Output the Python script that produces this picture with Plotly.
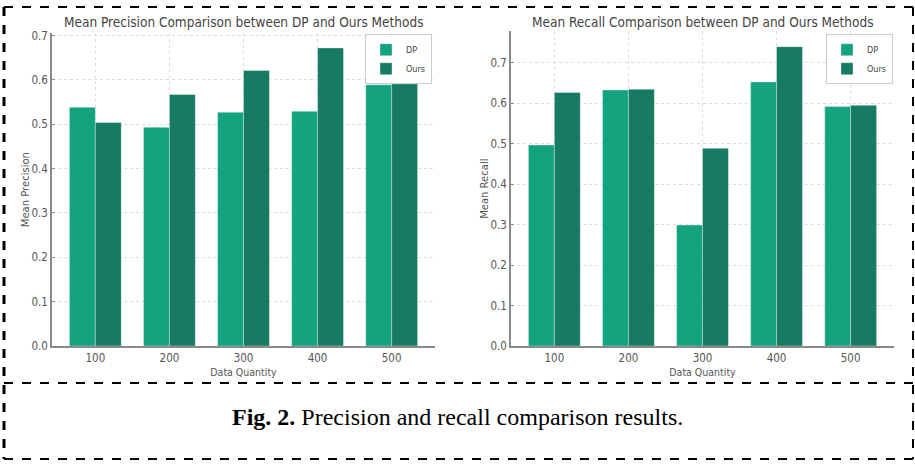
import plotly.graph_objects as go

W, H = 915, 469

categories = ["100", "200", "300", "400", "500"]
precision_dp = [0.538, 0.493, 0.527, 0.529, 0.589]
precision_ours = [0.504, 0.567, 0.621, 0.672, 0.591]
recall_dp = [0.497, 0.633, 0.299, 0.653, 0.592]
recall_ours = [0.627, 0.635, 0.489, 0.740, 0.595]
y_ticks = [0.0, 0.1, 0.2, 0.3, 0.4, 0.5, 0.6, 0.7]

C_DP = "#14a37f"
C_OURS = "#177a62"

fig = go.Figure()

def add_pair(dp, ours, xa, ya, leg):
    fig.add_trace(go.Bar(x=categories, y=dp, name="DP",
                         marker=dict(color=C_DP, line=dict(color="rgba(255,255,255,0.6)", width=0.6)),
                         xaxis=xa, yaxis=ya, legend=leg))
    fig.add_trace(go.Bar(x=categories, y=ours, name="Ours",
                         marker=dict(color=C_OURS, line=dict(color="rgba(255,255,255,0.6)", width=0.6)),
                         xaxis=xa, yaxis=ya, legend=leg))

add_pair(precision_dp, precision_ours, "x", "y", "legend")
add_pair(recall_dp, recall_ours, "x2", "y2", "legend2")

font_main = "DejaVu Sans Condensed, Liberation Sans Narrow, DejaVu Sans"

axis_common = dict(showline=True, linecolor="#8a8a8a", linewidth=1.5, showgrid=True,
                   gridcolor="#dcdcdc", griddash="dot", gridwidth=1, zeroline=False,
                   tickfont=dict(family=font_main, size=11.5, color="#555555"))

xcommon = dict(axis_common, type="category", range=[-0.585, 4.585], ticks="", tickson="labels",
               title=dict(text="Data Quantity", font=dict(family=font_main, size=10.5, color="#555555"), standoff=5))

ycommon = dict(axis_common, tickvals=y_ticks, tickformat=".1f", ticks="inside", ticklen=3,
               tickcolor="#8a8a8a")

ytitle_font = dict(family="DejaVu Sans", size=10, color="#555555")

legend_common = dict(yanchor="top", xanchor="right", bgcolor="rgba(255,255,255,0.85)",
                     bordercolor="#cccccc", borderwidth=1,
                     font=dict(family=font_main, size=9, color="#444444"),
                     itemwidth=30, tracegroupgap=0)

fig.update_layout(
    width=W, height=H,
    margin=dict(l=0, r=0, t=0, b=0),
    paper_bgcolor="white", plot_bgcolor="white",
    barmode="group", bargap=0.3, bargroupgap=0.0,
    showlegend=True,
    xaxis=dict(xcommon, domain=[52 / W, 435 / W], anchor="y"),
    yaxis=dict(ycommon, domain=[1 - 350 / H, 1 - 29 / H], range=[0, 0.705], anchor="x",
               title=dict(text="Mean Precision", font=ytitle_font, standoff=0)),
    xaxis2=dict(xcommon, domain=[511 / W, 894 / W], anchor="y2"),
    yaxis2=dict(ycommon, domain=[1 - 350 / H, 1 - 27 / H], range=[0, 0.778], anchor="x2",
                title=dict(text="Mean Recall", font=ytitle_font, standoff=0)),
    legend=dict(legend_common, x=432 / W, y=1 - 30 / H),
    legend2=dict(legend_common, x=893 / W, y=1 - 30 / H),
)

titles = [("Mean Precision Comparison between DP and Ours Methods", (52 + 435) / 2),
          ("Mean Recall Comparison between DP and Ours Methods", (511 + 894) / 2)]
for text, cx in titles:
    fig.add_annotation(text=text, x=cx / W, y=1 - 17 / H, xref="paper", yref="paper",
                       showarrow=False, xanchor="center", yanchor="middle",
                       font=dict(family=font_main, size=13.5, color="#444444"))

fig.add_annotation(text="<b>Fig. 2.</b> Precision and recall comparison results.",
                   x=458 / W, y=1 - 423 / H, xref="paper", yref="paper", showarrow=False,
                   xanchor="center", yanchor="middle",
                   font=dict(family="Liberation Serif, Times New Roman, serif", size=24, color="black"))

# dashed frame
def seg(x0, y0, x1, y1, w):
    fig.add_shape(type="line", xref="paper", yref="paper",
                  x0=x0 / W, y0=1 - y0 / H, x1=x1 / W, y1=1 - y1 / H,
                  line=dict(color="black", width=w, dash="dash"))

seg(4, 2, 4, 466, 3)
seg(4, 2, 913, 2, 2)
seg(4, 388, 913, 388, 2)
seg(4, 466, 913, 466, 2)
seg(913, 2, 913, 466, 2)

fig.write_html("out.html", config={"displayModeBar": False},
               post_script="document.body.style.margin='0px';document.body.style.overflow='hidden';")
